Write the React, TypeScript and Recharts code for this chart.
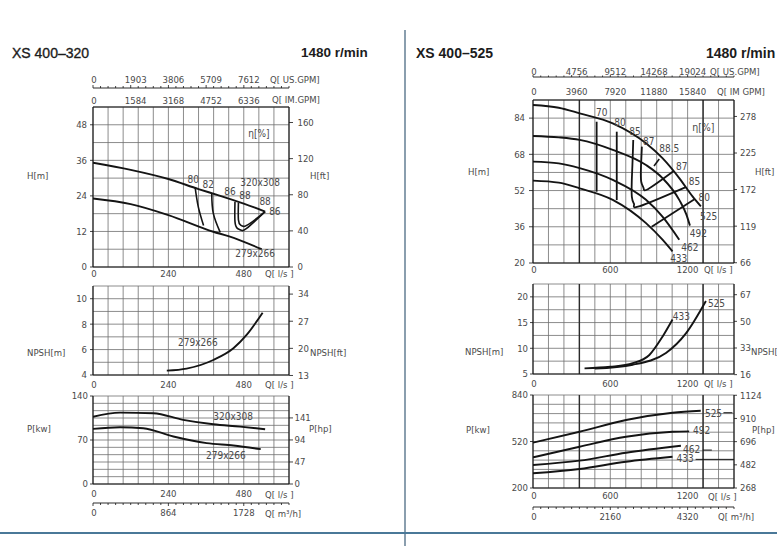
import React from 'react';
import { ComposedChart, Line, XAxis, YAxis, CartesianGrid, ReferenceDot, ReferenceLine } from 'recharts';

// unit conversions used by the secondary scales
const LS_US = 15.85;
const LS_IM = 13.2;
const LS_M3H = 3.6;
const M_FT = 3.2808;
const KW_HP = 1.341;

type Pt = { q: number; v: number };
const pts = (rows: number[][]): Pt[] => rows.map(([q, v]) => ({ q, v }));

// ---------- XS 400-320 ----------
const qTicks320 = [0, 240, 480];
const usGpmTicks320 = [0, 1903, 3806, 5709, 7612];
const imGpmTicks320 = [0, 1584, 3168, 4752, 6336];
const m3hTicks320 = [0, 864, 1728];
const hTicks320 = [0, 12, 24, 36, 48];
const hFtTicks320 = [0, 40, 80, 120, 160];
const npshTicks320 = [4, 6, 8, 10];
const npshFtTicks320 = [13, 20, 27, 34];
const pTicks320 = [0, 70, 140];
const pHpTicks320 = [0, 47, 94, 141];

const head320x308 = pts([[0, 35.2], [120, 32.8], [240, 29.7], [336, 26.3], [400, 24.2], [480, 21.4], [548, 18.7]]);
const head279x266 = pts([[0, 23.1], [120, 21.2], [240, 17.5], [383, 11.9], [431, 10.4], [537, 6.0]]);
const eta80_320 = pts([[325, 27.0], [335, 20.4], [352, 14.0]]);
const eta82_320 = pts([[378, 24.9], [383, 18.1], [405, 11.7]]);
const eta86_320 = pts([[452, 22], [452, 15.3], [460, 13], [472, 12.4], [489, 13], [548, 18.7]]);
const eta88_320 = pts([[463, 21.7], [463, 15.9], [470, 14.1], [480, 13.7], [500, 14.7], [548, 18.7]]);
const npsh279x266 = pts([[235, 4.34], [298, 4.5], [383, 5.18], [447, 6.1], [489, 7.15], [540, 8.9]]);
const power320x308 = pts([[0, 107], [86, 113.5], [192, 112.6], [287, 102], [383, 95], [468, 91.3], [548, 87.2]]);
const power279x266 = pts([[0, 87.7], [86, 90.4], [160, 88.8], [256, 75.5], [362, 65], [447, 61.2], [534, 55.5]]);

// ---------- XS 400-525 ----------
const qTicks525 = [0, 600, 1200];
const usGpmTicks525 = [0, 4756, 9512, 14268, 19024];
const imGpmTicks525 = [0, 3960, 7920, 11880, 15840];
const m3hTicks525 = [0, 2160, 4320];
const hTicks525 = [20, 36, 52, 68, 84];
const hFtTicks525 = [66, 119, 172, 225, 278];
const npshTicks525 = [5, 10, 15, 20];
const npshFtTicks525 = [16, 33, 50, 67];
const pTicks525 = [200, 520, 840];
const pHpTicks525 = [268, 482, 696, 910, 1124];

const head525 = pts([[0, 89.8], [200, 88.6], [362, 86.1], [619, 81.7], [877, 72.9], [1005, 66.3], [1135, 57.5], [1238, 49.4], [1303, 45]]);
const head492 = pts([[0, 76.1], [200, 75.5], [362, 74.4], [619, 70], [877, 63.3], [1005, 57.5], [1135, 47.9], [1190, 41.5], [1218, 36.5]]);
const head462 = pts([[0, 64.8], [200, 64], [362, 61.9], [619, 56.7], [877, 47.9], [1005, 40.5], [1135, 30.3]]);
const head433 = pts([[0, 56.4], [200, 55.5], [362, 53], [619, 47.9], [877, 37.6], [1005, 30.3], [1083, 25.1]]);
const eta70_525 = pts([[494, 82.4], [494, 51.5]]);
const eta80_525 = pts([[650, 78], [650, 47.8]]);
const eta80b_525 = pts([[921, 36], [1250, 48]]);
const eta85_525 = pts([[778, 74.3], [771, 62.5], [767, 49.3], [785, 45.8], [830, 45.1], [1186, 53.5]]);
const eta87_525 = pts([[845, 71.4], [838, 62.5], [840, 55.9], [858, 53.1], [895, 52.7], [1090, 60.5]]);
const eta885_525 = pts([[939, 62.8], [980, 65.9]]);
const npsh433 = pts([[400, 6.1], [600, 6.4], [774, 7.1], [903, 8.7], [1006, 12.3], [1083, 15.6]]);
const npsh525 = pts([[480, 6.05], [774, 6.8], [1032, 9.1], [1187, 12.9], [1342, 19.2]]);
const power525 = pts([[0, 512], [361, 587], [722, 668], [1083, 718], [1302, 732]]);
const power492 = pts([[0, 411], [361, 484], [722, 553], [1083, 587], [1212, 590]]);
const power462 = pts([[0, 358], [361, 388], [722, 443], [1148, 491]]);
const power433 = pts([[0, 301], [361, 331], [722, 381], [1083, 415]]);

const FONT = '"DejaVu Sans Condensed", "DejaVu Sans", sans-serif';
const TITLE_FONT = '"Liberation Sans", Arial, sans-serif';
const TXT = '#4a4a4a';
const INK = '#141414';
const GRID = '#6e6e6e';
const FS = 9.5;

const range = (a: number, b: number, step: number) => {
  const out: number[] = [];
  for (let i = 0; a + i * step <= b + 1e-6; i++) out.push(+(a + i * step).toFixed(4));
  return out;
};

// tick renderer for horizontal scales: labels only on majors, short marks on minors
const scaleTick = (majors: number[], side: 'top' | 'bottom', size: number, margin: number, dx: number, minorLen: number) =>
  (p: any) => {
    const v = Number(p.payload.value);
    const major = majors.some((m) => Math.abs(m - v) < 1e-3);
    const base = side === 'top' ? p.y + margin + size : p.y - margin - size;
    const dir = side === 'top' ? -1 : 1;
    const len = major ? (minorLen > 0 ? size : 0) : minorLen;
    return (
      <g>
        {len > 0 && <line x1={p.x} x2={p.x} y1={base} y2={base + dir * len} stroke={INK} strokeWidth={0.8} />}
        {major && (
          <text x={p.x + (v === 0 ? 1 : dx)} y={p.y} dy={side === 'top' ? 0 : '0.72em'} textAnchor="middle"
            fontSize={FS} fill={TXT} fontFamily={FONT}>{Math.round(v)}</text>
        )}
      </g>
    );
  };

type ScaleAxis = { ticks: number[]; factor: number; height: number; size: number; margin: number; dx: number; minorStep?: number; minorLen?: number; lineW: number };
type Side = { size: number; margin: number };

// a secondary Q scale (GPM or m3/h): its own axis plus an invisible series so the axis gets a domain
const secondary = (id: string, side: 'top' | 'bottom', qMax: number, vMin: number, a: ScaleAxis) => {
  const top = qMax * a.factor;
  const minors = a.minorStep
    ? range(0, top, a.minorStep * a.factor).filter((m) => a.ticks.every((t) => Math.abs(t - m) > a.factor * 3))
    : [];
  const all = [...a.ticks, ...minors].sort((x, y) => x - y);
  return [
    <XAxis key={`${id}-axis`} xAxisId={id} dataKey="q" orientation={side} type="number" domain={[0, top]} allowDataOverflow
      ticks={all} interval={0} height={a.height} tickSize={a.size} tickMargin={a.margin} tickLine={false}
      axisLine={{ stroke: INK, strokeWidth: a.lineW }}
      tick={scaleTick(a.ticks, side, a.size, a.margin, a.dx, a.minorLen ?? 0)} />,
    <Line key={`${id}-span`} xAxisId={id} yAxisId="v" data={[{ q: 0, v: vMin }, { q: top, v: vMin }]} dataKey="v"
      stroke="none" strokeWidth={0} dot={false} activeDot={false} isAnimationActive={false} />,
  ];
};

const curve = (key: string, data: Pt[], type: any = 'monotone', w = 1.9) => (
  <Line key={key} xAxisId="x0" yAxisId="v" data={data} dataKey="v" type={type} stroke={INK} strokeWidth={w}
    dot={false} activeDot={false} isAnimationActive={false} />
);

const tag = (key: string, q: number, v: number, text: string, size = 10) => (
  <ReferenceDot key={key} xAxisId="x0" yAxisId="v" x={q} y={v} r={0} ifOverflow="visible"
    shape={(p: any) => (
      <text x={p.cx} y={p.cy} textAnchor="middle" dominantBaseline="central" fontSize={size} fill={TXT} fontFamily={FONT}>{text}</text>
    )} />
);

const seg = (key: string, q1: number, v1: number, q2: number, v2: number, w = 1) => (
  <ReferenceLine key={key} xAxisId="x0" yAxisId="v" segment={[{ x: q1, y: v1 }, { x: q2, y: v2 }]} stroke={INK} strokeWidth={w} ifOverflow="visible" />
);

interface PlotProps {
  x: number; y: number; w: number; h: number;
  padTop: number; leftW: number; rightW: number;
  qMax: number; qStep: number; vMin: number; vMax: number; vStep: number;
  qTicks: number[]; qAxis: { height: number; size: number; margin: number };
  vTicks: number[]; vSide: Side;
  rTicks: number[]; rFactor: number; rSide: Side;
  tops?: ScaleAxis[]; lower?: ScaleAxis; heavy?: number[];
  children?: React.ReactNode;
}

function Plot(p: PlotProps) {
  const tops = p.tops ?? [];
  const topH = tops.reduce((s, a) => s + a.height, 0);
  const lowH = p.lower ? p.lower.height : 0;
  const W = p.leftW + p.w + p.rightW;
  const H = p.padTop + topH + p.h + p.qAxis.height + lowH;
  const border = { stroke: INK, strokeWidth: 1.1 };
  const yTick = { fontSize: FS, fill: TXT, fontFamily: FONT };
  return (
    <div style={{ position: 'absolute', left: p.x - p.leftW, top: p.y - topH - p.padTop }}>
      <ComposedChart width={W} height={H} margin={{ top: p.padTop, right: 0, bottom: 0, left: 0 }}>
        <CartesianGrid xAxisId="x0" yAxisId="v" verticalValues={range(0, p.qMax, p.qStep)}
          horizontalValues={range(p.vMin, p.vMax, p.vStep)} stroke={GRID} strokeWidth={0.8} />
        <XAxis xAxisId="x0" dataKey="q" type="number" domain={[0, p.qMax]} allowDataOverflow ticks={p.qTicks} interval={0}
          height={p.qAxis.height} tickSize={p.qAxis.size} tickMargin={p.qAxis.margin} tickLine={false} axisLine={border}
          tick={scaleTick(p.qTicks, 'bottom', p.qAxis.size, p.qAxis.margin, 0, 0)} />
        {p.lower && secondary('x1', 'bottom', p.qMax, p.vMin, p.lower)}
        {tops.map((a, i) => secondary(`x${i + 2}`, 'top', p.qMax, p.vMin, a))}
        <YAxis yAxisId="v" type="number" domain={[p.vMin, p.vMax]} allowDataOverflow ticks={p.vTicks} interval={0}
          width={p.leftW} tickSize={p.vSide.size} tickMargin={p.vSide.margin} tick={yTick}
          tickLine={{ stroke: INK, strokeWidth: 0.8 }} axisLine={border} />
        <YAxis yAxisId="r" orientation="right" type="number" domain={[p.vMin * p.rFactor, p.vMax * p.rFactor]} allowDataOverflow
          ticks={p.rTicks} interval={0} width={p.rightW} tickSize={p.rSide.size} tickMargin={p.rSide.margin} tick={yTick}
          tickLine={{ stroke: INK, strokeWidth: 0.8 }} axisLine={border} />
        {(p.heavy ?? []).map((q) => (
          <ReferenceLine key={`hv${q}`} xAxisId="x0" yAxisId="v" x={q} stroke="#2a2a2a" strokeWidth={1.4} />
        ))}
        {p.children}
      </ComposedChart>
    </div>
  );
}

const Txt = ({ x, y, children, size = FS, weight = 400, color = TXT, family = FONT }: any) => (
  <div style={{ position: 'absolute', left: x, top: y, transform: 'translateY(-50%)', fontSize: size, fontWeight: weight,
    color, fontFamily: family, whiteSpace: 'nowrap', lineHeight: 1 }}>{children}</div>
);

export default function App() {
  return (
    <div style={{ position: 'fixed', left: 0, top: 0, width: 777, height: 546, background: '#fff', overflow: 'hidden' }}>
      {/* page rules */}
      <div style={{ position: 'absolute', left: 404, top: 30, width: 2, height: 516, background: '#8a9eae' }} />
      <div style={{ position: 'absolute', left: 0, top: 532, width: 777, height: 2, background: '#4a7898' }} />

      {/* ---------------- XS 400-320 ---------------- */}
      <Txt x={12} y={53} size={14} color="#1c1c1c" family={TITLE_FONT}>
        <span style={{ WebkitTextStroke: '0.35px #1c1c1c' }}>XS 400–320</span>
      </Txt>
      <Txt x={301} y={53} size={13.5} weight={700} color="#1c1c1c" family={TITLE_FONT}>1480 r/min</Txt>

      <Plot x={93} y={107} w={196} h={160} padTop={0} leftW={40} rightW={40}
        qMax={624} qStep={48} vMin={0} vMax={54} vStep={6}
        qTicks={qTicks320} qAxis={{ height: 16, size: 2, margin: 1 }}
        vTicks={hTicks320} vSide={{ size: 3, margin: 3 }}
        rTicks={hFtTicks320} rFactor={M_FT} rSide={{ size: 4, margin: 4.5 }}
        tops={[
          { ticks: imGpmTicks320, factor: LS_IM, height: 19, size: 2, margin: 1.5, dx: 5, lineW: 1.1 },
          { ticks: usGpmTicks320, factor: LS_US, height: 20, size: 3, margin: 2, dx: 5, minorStep: 24, minorLen: 2, lineW: 0.9 },
        ]}>
        {curve('h320', head320x308)}
        {curve('h279', head279x266)}
        {curve('e80', eta80_320, 'natural', 1.6)}
        {curve('e82', eta82_320, 'natural', 1.6)}
        {curve('e86', eta86_320, 'natural', 1.6)}
        {curve('e88', eta88_320, 'natural', 1.6)}
        {tag('l80', 319, 29.4, '80')}
        {tag('l82', 367, 27.7, '82')}
        {tag('l86', 436, 25.4, '86')}
        {tag('l88', 484, 24.3, '88')}
        {tag('l320', 532, 28.5, '320x308')}
        {tag('l88b', 548, 22, '88')}
        {tag('l86b', 579, 18.7, '86')}
        {tag('l279', 516, 4.4, '279x266')}
        {tag('eta', 528, 45.1, 'η[%]')}
      </Plot>
      <Txt x={270} y={79.5}>Q[ US.GPM]</Txt>
      <Txt x={272} y={100}>Q[ IM.GPM]</Txt>
      <Txt x={27} y={175.5}>H[m]</Txt>
      <Txt x={310} y={175.5}>H[ft]</Txt>
      <Txt x={265} y={274}>Q[ l/s ]</Txt>

      <Plot x={93} y={286} w={196} h={89} padTop={6} leftW={40} rightW={40}
        qMax={624} qStep={48} vMin={4} vMax={11} vStep={1}
        qTicks={qTicks320} qAxis={{ height: 16, size: 3, margin: 3 }}
        vTicks={npshTicks320} vSide={{ size: 3, margin: 3 }}
        rTicks={npshFtTicks320} rFactor={M_FT} rSide={{ size: 4, margin: 5 }}>
        {curve('n279', npsh279x266)}
        {tag('ln279', 334, 6.55, '279x266')}
      </Plot>
      <Txt x={27} y={352.5}>NPSH[m]</Txt>
      <Txt x={310} y={352.5}>NPSH[ft]</Txt>
      <Txt x={265} y={385}>Q[ l/s ]</Txt>

      <Plot x={93} y={396} w={196} h={88} padTop={6} leftW={40} rightW={40}
        qMax={624} qStep={48} vMin={0} vMax={140} vStep={140 / 12}
        qTicks={qTicks320} qAxis={{ height: 19, size: 3, margin: 3 }}
        vTicks={pTicks320} vSide={{ size: 3, margin: 2 }}
        rTicks={pHpTicks320} rFactor={KW_HP} rSide={{ size: 4, margin: 1.5 }}
        lower={{ ticks: m3hTicks320, factor: LS_M3H, height: 16, size: 3, margin: 3, dx: 0, minorStep: 24, minorLen: 2, lineW: 0.9 }}>
        {curve('p320', power320x308)}
        {curve('p279', power279x266)}
        {tag('lp320', 446, 107, '320x308')}
        {tag('lp279', 423, 46, '279x266')}
      </Plot>
      <Txt x={27} y={429}>P[kw]</Txt>
      <Txt x={309} y={429}>P[hp]</Txt>
      <Txt x={265} y={495}>Q[ l/s ]</Txt>
      <Txt x={265} y={513.5}>Q[ m³/h]</Txt>

      {/* ---------------- XS 400-525 ---------------- */}
      <Txt x={416} y={53} size={14} weight={700} color="#1c1c1c" family={TITLE_FONT}>XS 400–525</Txt>
      <Txt x={706} y={53} size={14} weight={700} color="#1c1c1c" family={TITLE_FONT}>1480 r/min</Txt>

      <Plot x={533} y={100} w={201} h={163} padTop={0} leftW={40} rightW={43}
        qMax={1560} qStep={120} vMin={20} vMax={92} vStep={8}
        qTicks={qTicks525} qAxis={{ height: 14, size: 2, margin: 1 }}
        vTicks={hTicks525} vSide={{ size: 4, margin: 4 }}
        rTicks={hFtTicks525} rFactor={M_FT} rSide={{ size: 3, margin: 3 }}
        heavy={[360, 1320]}
        tops={[
          { ticks: imGpmTicks525, factor: LS_IM, height: 23, size: 2, margin: 2.8, dx: 5, lineW: 1.1 },
          { ticks: usGpmTicks525, factor: LS_US, height: 18, size: 2, margin: 0.5, dx: 5, minorStep: 60, minorLen: 1.5, lineW: 0.9 },
        ]}>
        {curve('h525', head525)}
        {curve('h492', head492)}
        {curve('h462', head462)}
        {curve('h433', head433)}
        {curve('e70', eta70_525, 'linear', 1.8)}
        {curve('e80', eta80_525, 'linear', 1.8)}
        {curve('e80b', eta80b_525, 'linear', 1.8)}
        {curve('e85', eta85_525, 'natural', 1.8)}
        {curve('e87', eta87_525, 'natural', 1.8)}
        {curve('e885', eta885_525, 'linear', 1.6)}
        {tag('t70', 533, 86.4, '70')}
        {tag('t80', 675, 82, '80')}
        {tag('t85', 792, 78, '85')}
        {tag('t87', 898, 73.6, '87')}
        {tag('t885', 1058, 70.7, '88.5')}
        {tag('teta', 1322, 80.2, 'η[%]', 10.5)}
        {tag('t87b', 1154, 62.6, '87')}
        {tag('t85b', 1253, 56, '85')}
        {tag('t80b', 1329, 49, '80')}
        {tag('t525', 1363, 40.5, '525')}
        {tag('t492', 1283, 33.1, '492')}
        {tag('t462', 1218, 26.9, '462')}
        {tag('t433', 1131, 21.9, '433')}
      </Plot>
      <Txt x={710} y={71.5}>Q[ US.GPM]</Txt>
      <Txt x={717} y={91.5}>Q[ IM GPM]</Txt>
      <Txt x={468} y={171.5}>H[m]</Txt>
      <Txt x={755} y={171.5}>H[ft]</Txt>
      <Txt x={704} y={270}>Q[ l/s ]</Txt>

      <Plot x={533} y={284} w={201} h={90} padTop={6} leftW={40} rightW={43}
        qMax={1560} qStep={120} vMin={5} vMax={22.5} vStep={2.5}
        qTicks={qTicks525} qAxis={{ height: 16, size: 3, margin: 3 }}
        vTicks={npshTicks525} vSide={{ size: 3, margin: 2 }}
        rTicks={npshFtTicks525} rFactor={M_FT} rSide={{ size: 3, margin: 3 }}
        heavy={[360, 1320]}>
        {curve('n433', npsh433)}
        {curve('n525', npsh525)}
        {tag('tn433', 1151, 16.1, '433')}
        {tag('tn525', 1424, 18.8, '525')}
      </Plot>
      <Txt x={465} y={351.5}>NPSH[m]</Txt>
      <Txt x={751} y={351.5}>NPSH[ft]</Txt>
      <Txt x={704} y={383.5}>Q[ l/s ]</Txt>

      <Plot x={533} y={395} w={201} h={93} padTop={6} leftW={40} rightW={43}
        qMax={1560} qStep={120} vMin={200} vMax={840} vStep={64}
        qTicks={qTicks525} qAxis={{ height: 19, size: 2, margin: 2 }}
        vTicks={pTicks525} vSide={{ size: 3, margin: 2 }}
        rTicks={pHpTicks525} rFactor={KW_HP} rSide={{ size: 3, margin: 3 }}
        heavy={[360, 1320]}
        lower={{ ticks: m3hTicks525, factor: LS_M3H, height: 16, size: 3, margin: 3, dx: 0, minorStep: 60, minorLen: 2, lineW: 0.9 }}>
        {curve('p525', power525)}
        {curve('p492', power492)}
        {curve('p462', power462)}
        {curve('p433', power433)}
        {tag('tp525', 1401, 714, '525')}
        {tag('tp492', 1309, 599, '492')}
        {tag('tp462', 1231, 468, '462')}
        {tag('tp433', 1180, 404, '433')}
        {seg('d525', 1478, 718, 1548, 718)}
        {seg('d462', 1318, 461, 1388, 461)}
        {seg('d433', 1262, 397, 1560, 397)}
      </Plot>
      <Txt x={466} y={430}>P[kw]</Txt>
      <Txt x={752} y={430}>P[hp]</Txt>
      <Txt x={708} y={497}>Q[ l/s ]</Txt>
      <Txt x={718} y={516.5}>Q[ m³/h]</Txt>
    </div>
  );
}
